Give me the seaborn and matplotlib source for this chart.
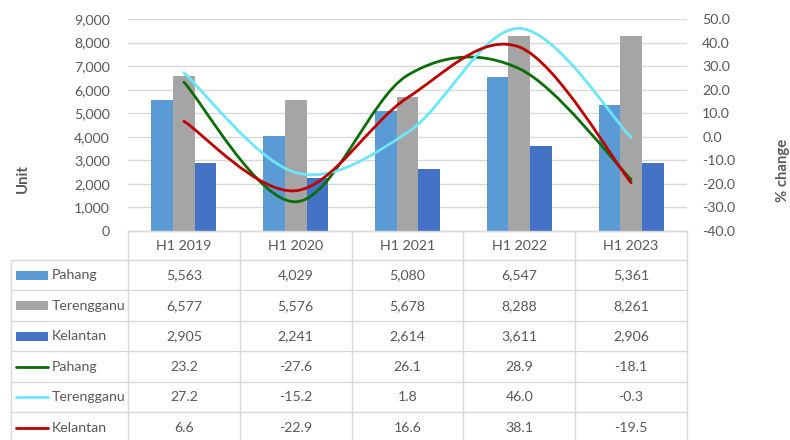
import numpy as np
import pandas as pd
import matplotlib
matplotlib.use("Agg")
import matplotlib.pyplot as plt
from matplotlib.path import Path
from matplotlib.patches import PathPatch, Rectangle
from matplotlib.lines import Line2D
from matplotlib.ticker import FuncFormatter
import seaborn as sns

# ---- data -------------------------------------------------------------
periods = ["H1 2019", "H1 2020", "H1 2021", "H1 2022", "H1 2023"]
states = ["Pahang", "Terengganu", "Kelantan"]

units_pahang = [5563, 4029, 5080, 6547, 5361]
units_terengganu = [6577, 5576, 5678, 8288, 8261]
units_kelantan = [2905, 2241, 2614, 3611, 2906]

pct_pahang = [23.2, -27.6, 26.1, 28.9, -18.1]
pct_terengganu = [27.2, -15.2, 1.8, 46.0, -0.3]
pct_kelantan = [6.6, -22.9, 16.6, 38.1, -19.5]

bar_colors = ["#5B9BD5", "#A5A5A5", "#4472C4"]
line_colors = ["#0A6E0A", "#6BE6FB", "#C00000"]
text_color = "#595959"
grid_color = "#D9D9D9"

units = [units_pahang, units_terengganu, units_kelantan]
pcts = [pct_pahang, pct_terengganu, pct_kelantan]

# ---- style ------------------------------------------------------------
sns.set_theme(style="white")
plt.rcParams["font.family"] = ["Lato", "DejaVu Sans"]
FS = 10.2

W, H = 790, 440
fig = plt.figure(figsize=(W / 100, H / 100), dpi=100)

# plot area in pixels
px_left, px_right, px_top, px_bottom = 128, 687, 19, 231
ax = fig.add_axes([px_left / W, 1 - px_bottom / H,
                   (px_right - px_left) / W, (px_bottom - px_top) / H])

df = pd.DataFrame({
    "period": periods * len(states),
    "state": np.repeat(states, len(periods)),
    "units": sum(units, []),
})
sns.barplot(data=df, x="period", y="units", hue="state", hue_order=states,
            palette=bar_colors, width=0.58, saturation=1, errorbar=None,
            legend=False, linewidth=0, ax=ax, zorder=2)

ax.set_xlim(-0.5, len(periods) - 0.5)
ax.set_ylim(0, 9000)
ax.set_yticks(range(0, 9001, 1000))
ax.yaxis.set_major_formatter(FuncFormatter(lambda v, _: f"{v:,.0f}"))
ax.set_xticks([])
ax.set_xlabel("")
ax.set_ylabel("")
ax.yaxis.grid(True, color=grid_color, lw=1)
ax.set_axisbelow(True)
for s in ["top", "left", "right"]:
    ax.spines[s].set_visible(False)
ax.spines["bottom"].set_color(grid_color)
ax.spines["bottom"].set_linewidth(1)
ax.tick_params(axis="y", length=0, pad=13, labelsize=FS, labelcolor=text_color)

# secondary axis for % change
ax2 = ax.twinx()
ax2.set_ylim(-40, 50)
ax2.set_yticks(range(-40, 51, 10))
ax2.yaxis.set_major_formatter(FuncFormatter(lambda v, _: f"{v:.1f}"))
for s in ax2.spines.values():
    s.set_visible(False)
ax2.tick_params(axis="y", length=0, pad=11, labelsize=FS, labelcolor=text_color)


def smooth_path(xs, ys):
    """Cubic Bezier path through the points (Catmull-Rom style smoothing)."""
    pts = np.column_stack([xs, ys]).astype(float)
    n = len(pts)
    verts = [pts[0]]
    codes = [Path.MOVETO]
    for i in range(n - 1):
        p0 = pts[max(i - 1, 0)]
        p1, p2 = pts[i], pts[i + 1]
        p3 = pts[min(i + 2, n - 1)]
        verts += [p1 + (p2 - p0) / 6, p2 - (p3 - p1) / 6, p2]
        codes += [Path.CURVE4] * 3
    return Path(verts, codes)


xpos = np.arange(len(periods))
for vals, col in zip(pcts, line_colors):
    ax2.add_patch(PathPatch(smooth_path(xpos, vals), fill=False,
                            edgecolor=col, lw=2.0, capstyle="round",
                            joinstyle="round", zorder=3))

# axis titles
fig.text(23 / W, 1 - 179 / H, "Unit", rotation=90, ha="center", va="center",
         fontsize=FS + 0.5, fontweight="bold", color=text_color)
fig.text(783 / W, 1 - 170 / H, "% change", rotation=90, ha="center",
         va="center", fontsize=FS + 0.5, fontweight="bold", color=text_color)

# ---- data table underneath -------------------------------------------
tab = fig.add_axes([0, 0, 1, 1], zorder=-1)
tab.set_xlim(0, W)
tab.set_ylim(H, 0)
tab.axis("off")

ncol = len(periods)
col_w = (px_right - px_left) / ncol
col_edges = [px_left + i * col_w for i in range(ncol + 1)]
leg_left = 11
head_bottom = 260
row_h = 30.5
nrows = 6
row_edges = [head_bottom + i * row_h for i in range(nrows + 1)]

lkw = dict(color=grid_color, lw=1, solid_capstyle="butt")
# horizontal rules
tab.add_line(Line2D([px_left, px_right], [px_bottom, px_bottom], **lkw))
for y in row_edges:
    tab.add_line(Line2D([leg_left, px_right], [y, y], **lkw))
# vertical rules
tab.add_line(Line2D([leg_left, leg_left], [head_bottom, H + 5], **lkw))
for x in col_edges:
    tab.add_line(Line2D([x, x], [px_bottom, H + 5], **lkw))

# header
for i, p in enumerate(periods):
    tab.text(px_left + (i + 0.5) * col_w, (px_bottom + head_bottom) / 2 + 1, p,
             ha="center", va="center", fontsize=FS, color=text_color)

row_labels = states + states
row_values = [[f"{v:,}" for v in u] for u in units] + \
             [[f"{v:.1f}" for v in p] for p in pcts]

for r in range(nrows):
    yc = head_bottom + (r + 0.5) * row_h
    if r < 3:
        tab.add_patch(Rectangle((16, yc - 4.5), 32, 9, color=bar_colors[r], lw=0))
    else:
        tab.add_line(Line2D([16, 48], [yc, yc], color=line_colors[r - 3], lw=2))
    tab.text(52, yc, row_labels[r], ha="left", va="center", fontsize=FS,
             color=text_color)
    for i, v in enumerate(row_values[r]):
        tab.text(px_left + (i + 0.5) * col_w, yc, v, ha="center", va="center",
                 fontsize=FS, color=text_color)

fig.savefig("out.png", dpi=100, facecolor="white")
